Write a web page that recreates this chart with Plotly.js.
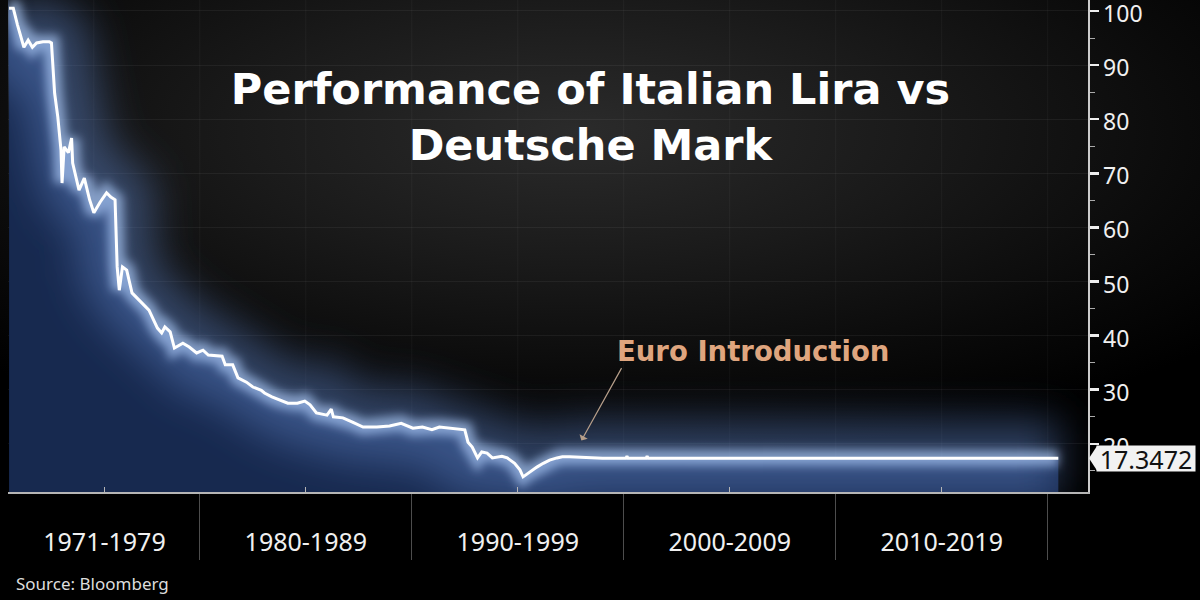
<!DOCTYPE html>
<html>
<head>
<meta charset="utf-8">
<script src="https://cdn.plot.ly/plotly-3.0.1.min.js"></script>
<style>
  html, body { margin: 0; padding: 0; }
  body {
    width: 1200px; height: 600px; overflow: hidden;
    background: radial-gradient(ellipse 70% 55% at 48% 22%, #2b2b2b 0%, #1a1a1a 40%, #0a0a0a 75%, #000 100%);
  }
  #chart { width: 1200px; height: 600px; }
</style>
</head>
<body>
<div id="chart"></div>
<script>
// ---- Data ----
const years = [
  1971.0, 1971.2, 1971.4, 1971.7, 1971.9, 1972.1, 1972.3, 1972.6, 1972.9, 1973.0,
  1973.15, 1973.3, 1973.45, 1973.5, 1973.6, 1973.8, 1973.95, 1974.0, 1974.3, 1974.55,
  1974.8, 1975.0, 1975.3, 1975.6, 1975.8, 1976.0, 1976.1, 1976.2, 1976.35, 1976.55,
  1976.8, 1977.3, 1977.6, 1978.0, 1978.2, 1978.35, 1978.6, 1978.8, 1979.2, 1979.5,
  1979.85, 1980.15, 1980.4, 1981.05, 1981.2, 1981.55, 1981.8, 1982.2, 1982.5, 1982.9,
  1983.05, 1983.4, 1983.8, 1984.15, 1984.6, 1984.95, 1985.2, 1985.5, 1986.0, 1986.2,
  1986.3, 1986.75, 1987.2, 1987.7, 1988.35, 1988.95, 1989.5, 1990.05, 1990.5, 1990.95,
  1991.3, 1991.95, 1992.5, 1992.65, 1992.85, 1993.1, 1993.3, 1993.55, 1993.8, 1994.25,
  1994.5, 1994.85, 1995.1, 1995.25, 1995.55, 1995.9, 1996.2, 1996.5, 1996.85, 1997.1,
  1997.45, 1998.0, 1998.6, 1999.0, 2000.1, 2000.15, 2000.2, 2001.05, 2001.1, 2001.15,
  2005.0, 2010.0, 2015.0, 2020.5
];
const lira = [
  100.5, 100.5, 97.4, 93.3, 94.6, 93.3, 94.1, 94.3, 94.3, 94.1,
  84.8, 80.4, 74.3, 68.2, 74.9, 73.8, 76.5, 71.9, 66.9, 69.1,
  65.1, 62.7, 64.7, 66.4, 65.6, 65.1, 52.7, 48.4, 52.7, 52.1,
  47.9, 46.0, 44.7, 41.4, 40.5, 41.6, 40.7, 37.7, 38.6, 37.9,
  36.8, 37.3, 36.4, 36.2, 34.6, 34.6, 32.2, 31.4, 30.5, 29.9,
  29.4, 28.7, 28.1, 27.5, 27.5, 27.9, 27.2, 25.7, 25.3, 26.4,
  25.0, 24.8, 24.0, 23.1, 23.1, 23.3, 23.8, 22.9, 23.1, 22.6,
  23.1, 22.9, 22.6, 20.3, 19.4, 17.4, 18.5, 18.3, 17.4, 17.7,
  17.4, 16.4, 15.2, 13.9, 14.8, 15.7, 16.4, 17.0, 17.4, 17.6,
  17.6, 17.5, 17.45, 17.3472, 17.3472, 17.7, 17.3472, 17.3472, 17.7, 17.3472,
  17.3472, 17.3472, 17.3472, 17.3472
];
const decadeLabels = ["1971-1979", "1980-1989", "1990-1999", "2000-2009", "2010-2019"];
const decadeStarts = [1971, 1980, 1990, 2000, 2010];
const decadeEnds   = [1979, 1989, 1999, 2009, 2019];
const yTicks = [20, 30, 40, 50, 60, 70, 80, 90, 100];
const titleText = "Performance of Italian Lira vs<br>Deutsche Mark";
const sourceText = "Source: Bloomberg";
const eventLabel = "Euro Introduction";
const eventYear = 1998.0;
const lastValue = lira[lira.length - 1];

// ---- Derived axis helpers ----
const labelCenters = decadeStarts.map((s, i) => (s + decadeEnds[i] + 1) / 2);
const separators = decadeEnds.map(e => e + 1);
const gridYears = [];
for (let yv = 1975; yv <= 2020; yv += 5) gridYears.push(yv);

const FONT = "Noto Sans, Open Sans, sans-serif";
const BOLD = "DejaVu Sans, Verdana, sans-serif";

const base = { x: years, y: lira, mode: "lines", hoverinfo: "skip", showlegend: false };
const traces = [
  Object.assign({}, base, { fill: "tozeroy", fillcolor: "#17294f", line: { width: 0, color: "rgba(0,0,0,0)" } }),
  Object.assign({}, base, { line: { width: 76, color: "rgba(90,125,190,0.5)" } }),
  Object.assign({}, base, { line: { width: 16, color: "rgba(175,205,250,0.65)" } }),
  Object.assign({}, base, { line: { width: 3, color: "#ffffff" } })
];

const layout = {
  width: 1200, height: 600,
  margin: { l: 8, r: 112, t: 0, b: 108 },
  paper_bgcolor: "rgba(0,0,0,0)",
  plot_bgcolor: "rgba(0,0,0,0)",
  showlegend: false,
  title: {
    text: titleText,
    font: { family: BOLD, size: 43, color: "#ffffff", weight: 700 },
    xref: "container", x: 0.492, xanchor: "center",
    yref: "container", y: 0.826, yanchor: "middle"
  },
  xaxis: {
    range: [1970.95, 2021.9],
    tickmode: "array", tickvals: labelCenters, ticktext: decadeLabels,
    ticks: "inside", ticklen: 5, tickwidth: 1, tickcolor: "#b5b5b5",
    ticklabelstandoff: 27,
    tickfont: { family: FONT, size: 25, color: "#f0f0f0" },
    showline: true, linecolor: "#b5b5b5", linewidth: 1.5,
    showgrid: false, zeroline: false,
    minor: {
      tickmode: "array", tickvals: separators,
      ticks: "outside", ticklen: 66, tickwidth: 1, tickcolor: "rgba(255,255,255,0.3)",
      showgrid: false
    }
  },
  yaxis: {
    side: "right",
    range: [11.1, 102.03],
    tickmode: "array", tickvals: yTicks,
    ticks: "outside", ticklen: 9, tickwidth: 2.5, tickcolor: "#eeeeee",
    ticklabeloverflow: "allow",
    ticklabelshift: 3,
    tickfont: { family: FONT, size: 23, color: "#f0f0f0" },
    showline: true, linecolor: "#cccccc", linewidth: 1.5,
    showgrid: true, gridcolor: "rgba(255,255,255,0.055)", gridwidth: 1,
    zeroline: false,
    minor: { dtick: 5, tick0: 0, ticks: "outside", ticklen: 5, tickwidth: 1, tickcolor: "#aaaaaa", showgrid: false }
  },
  shapes: gridYears.map(g => ({
    type: "line", xref: "x", yref: "paper", x0: g, x1: g, y0: 0, y1: 1,
    line: { color: "rgba(255,255,255,0.045)", width: 1 }, layer: "below"
  })).concat([{
    type: "path", xref: "paper", yref: "y",
    path: `M 1.0009 ${lastValue} L 1.0085 ${lastValue + 2.3} L 1.0085 ${lastValue - 2.3} Z`,
    fillcolor: "#f2f2f2", line: { width: 0 }, layer: "above"
  }]),
  annotations: [
    {
      xref: "paper", yref: "y", x: 1, y: lastValue, xanchor: "left", yanchor: "middle", xshift: 8,
      text: lastValue.toFixed(4), showarrow: false,
      font: { family: FONT, size: 25, color: "#111111" },
      bgcolor: "#f2f2f2", borderpad: 0, width: 98, height: 25, align: "center", valign: "middle"
    },
    {
      xref: "x", yref: "y", x: 2006.1, y: 37.2, xanchor: "center", yanchor: "middle",
      text: eventLabel, showarrow: false,
      font: { family: BOLD, size: 27.5, color: "#dfa57e", weight: 700 }
    },
    {
      xref: "x", yref: "y", x: eventYear, y: 20.6, text: "", showarrow: true,
      ax: 41, ay: -74, arrowhead: 1, arrowsize: 1.3, arrowwidth: 1.2, arrowcolor: "#b79f8a"
    },
    {
      xref: "paper", yref: "paper", x: 0.0056, y: -0.185, xanchor: "left", yanchor: "middle",
      text: sourceText, showarrow: false,
      font: { family: FONT, size: 17, color: "#dddddd" }
    }
  ]
};

Plotly.newPlot("chart", traces, layout, { displayModeBar: false, staticPlot: true }).then(() => {
  // Soft glow: blur the wide halo strokes drawn by Plotly
  const NS = "http://www.w3.org/2000/svg";
  const svg = document.querySelector("#chart .main-svg");
  let defs = svg.querySelector("defs");
  if (!defs) { defs = document.createElementNS(NS, "defs"); svg.insertBefore(defs, svg.firstChild); }
  function addBlur(id, sd) {
    const f = document.createElementNS(NS, "filter");
    f.setAttribute("id", id);
    f.setAttribute("filterUnits", "userSpaceOnUse");
    f.setAttribute("x", "-200"); f.setAttribute("y", "-200");
    f.setAttribute("width", "1600"); f.setAttribute("height", "1000");
    const g = document.createElementNS(NS, "feGaussianBlur");
    g.setAttribute("stdDeviation", sd);
    f.appendChild(g);
    defs.appendChild(f);
  }
  addBlur("glowWide", 20);
  addBlur("glowNarrow", 5);
  const tr = document.querySelectorAll("#chart .scatterlayer .trace");
  if (tr[1]) tr[1].setAttribute("filter", "url(#glowWide)");
  if (tr[2]) tr[2].setAttribute("filter", "url(#glowNarrow)");
});
</script>
</body>
</html>
